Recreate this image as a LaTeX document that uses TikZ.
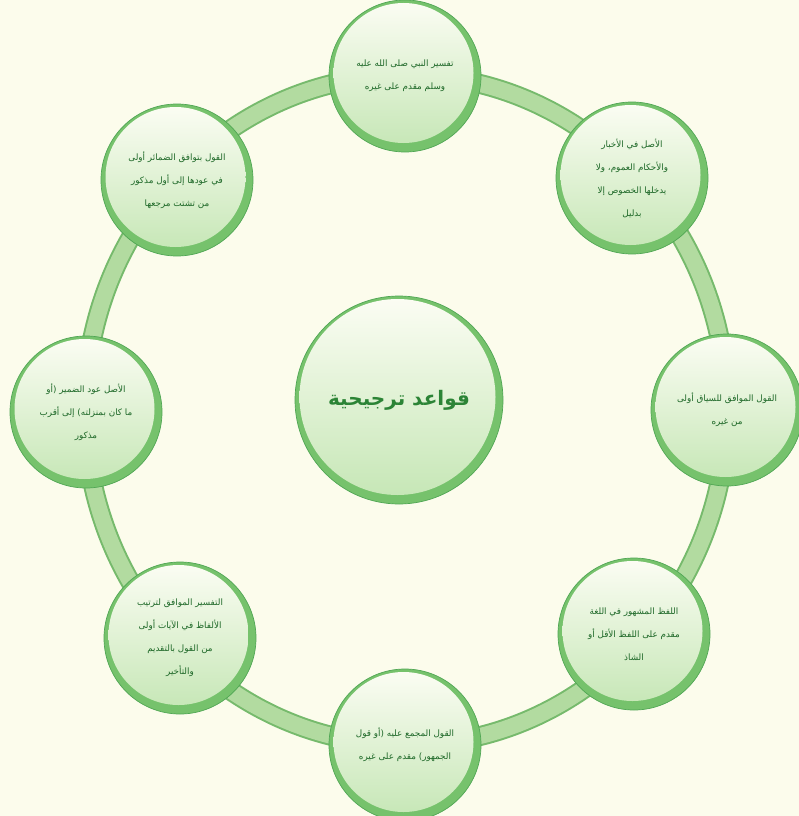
\documentclass[tikz,border=0pt]{standalone}
\usepackage{fontspec}
\newfontfamily\arabicfont[Script=Arabic]{DejaVu Sans}
\TeXXeTstate=1
\newcommand\ar[1]{\beginR #1\endR}
\definecolor{bgc}{RGB}{252,252,236}
\definecolor{ringfill}{RGB}{178,219,160}
\definecolor{ringedge}{RGB}{118,186,108}
\definecolor{rim}{RGB}{118,194,108}
\definecolor{edgec}{RGB}{80,166,84}
\definecolor{bubtop}{RGB}{252,253,244}
\definecolor{bubbot}{RGB}{196,230,180}
\definecolor{txt}{RGB}{30,104,40}
\definecolor{ctxt}{RGB}{44,132,54}
\tikzset{
  bubble/.style={circle, minimum size=#1, inner sep=0pt, fill=rim, draw=edgec, line width=0.7pt,
    path picture={\shade[top color=bubtop, bottom color=bubbot]
      ([xshift=-1.5pt,yshift=3pt]path picture bounding box.center) circle ({#1/2-6pt});},
    text=txt, align=center},
  sat/.style={bubble=152pt, font=\arabicfont\fontsize{8.8}{23}\selectfont},
  hub/.style={bubble=208pt, text=ctxt, font=\arabicfont\bfseries\fontsize{20}{24}\selectfont}
}
\begin{document}
\begin{tikzpicture}[x=1pt,y=-1pt]
\fill[bgc] (0,0) rectangle (799,816);
\useasboundingbox (0,0) rectangle (799,816);
\coordinate (ringc) at (406,410);
\draw[ringedge, line width=20pt] (ringc) ellipse [x radius=321pt, y radius=335pt];
\draw[ringfill, line width=16pt] (ringc) ellipse [x radius=321pt, y radius=335pt];

\node[hub] (hub) at (399,400) {\ar{قواعد ترجيحية}};

\node[sat] (n1) at (405,76) {\ar{تفسير النبي صلى الله عليه}\\\ar{وسلم مقدم على غيره}};
\node[sat] (n2) at (632,178) {\ar{الأصل في الأخبار}\\\ar{والأحكام العموم، ولا}\\\ar{يدخلها الخصوص إلا}\\\ar{بدليل}};
\node[sat] (n3) at (727,410) {\ar{القول الموافق للسياق أولى}\\\ar{من غيره}};
\node[sat] (n4) at (634,634) {\ar{اللفظ المشهور في اللغة}\\\ar{مقدم على اللفظ الأقل أو}\\\ar{الشاذ}};
\node[sat] (n5) at (405,745) {\ar{القول المجمع عليه (أو قول}\\\ar{الجمهور) مقدم على غيره}};
\node[sat] (n6) at (180,638) {\ar{التفسير الموافق لترتيب}\\\ar{الألفاظ في الآيات أولى}\\\ar{من القول بالتقديم}\\\ar{والتأخير}};
\node[sat] (n7) at (86,412) {\ar{الأصل عود الضمير (أو}\\\ar{ما كان بمنزلته) إلى أقرب}\\\ar{مذكور}};
\node[sat] (n8) at (177,180) {\ar{القول بتوافق الضمائر أولى}\\\ar{في عودها إلى أول مذكور}\\\ar{من تشتت مرجعها}};
\end{tikzpicture}
\end{document}
